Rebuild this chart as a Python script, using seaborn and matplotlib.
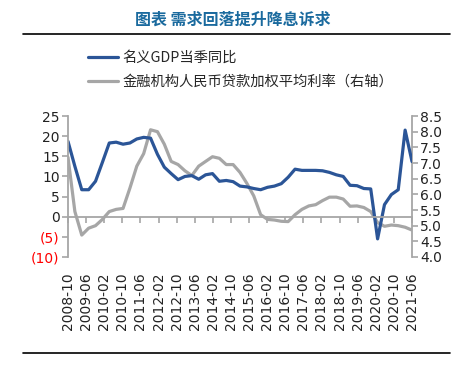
import numpy as np
import matplotlib
matplotlib.use("Agg")
import matplotlib.pyplot as plt
import seaborn as sns

# quarterly data, 2008Q4 .. 2021Q2
gdp_yoy = [18.7, 12.5, 6.7, 6.7, 8.8, 13.5, 18.3, 18.5, 18.0, 18.3,
           19.3, 19.7, 19.5, 15.5, 12.3, 10.7, 9.2, 10.0, 10.2, 9.3,
           10.4, 10.7, 8.8, 9.0, 8.7, 7.6, 7.4, 7.0, 6.7, 7.3,
           7.6, 8.2, 9.8, 11.8, 11.5, 11.5, 11.5, 11.4, 11.0, 10.4,
           10.0, 7.8, 7.7, 7.0, 6.9, -5.5, 3.0, 5.5, 6.7, 21.5,
           13.7]
loan_rate = [7.18, 5.45, 4.70, 4.92, 5.00, 5.20, 5.45, 5.52, 5.55, 6.20,
             6.90, 7.30, 8.06, 8.00, 7.60, 7.05, 6.95, 6.75, 6.60, 6.90,
             7.05, 7.20, 7.15, 6.95, 6.95, 6.70, 6.35, 5.95, 5.35, 5.20,
             5.18, 5.14, 5.13, 5.35, 5.52, 5.63, 5.67, 5.80, 5.91, 5.91,
             5.85, 5.62, 5.63, 5.58, 5.45, 5.10, 4.98, 5.02, 5.00, 4.95,
             4.86]
tick_labels = ['2008-10', '2009-06', '2010-02', '2010-10', '2011-06',
               '2012-02', '2012-10', '2013-06', '2014-02', '2014-10',
               '2015-06', '2016-02', '2016-10', '2017-06', '2018-02',
               '2018-10', '2019-06', '2020-02', '2020-10', '2021-06']
left_ticks = [-10, -5, 0, 5, 10, 15, 20, 25]
left_labels = ['(10)', '(5)', '0', '5', '10', '15', '20', '25']
right_ticks = [4.0, 4.5, 5.0, 5.5, 6.0, 6.5, 7.0, 7.5, 8.0, 8.5]

gdp_name = '名义GDP当季同比'
rate_name = '金融机构人民币贷款加权平均利率（右轴）'
title = '图表 需求回落提升降息诉求'

sns.set_style("white")
plt.rcParams['font.family'] = ['Noto Sans CJK SC', 'DejaVu Sans']
num_font = ['DejaVu Sans']

blue = '#2B5597'
grey = '#A6A6A6'
axis_grey = '#A6A6A6'
text_col = '#222222'

# x in months since 2008-10, ticks every 8 months
months = np.linspace(0, 152, len(gdp_yoy))
tick_pos = np.arange(0, 153, 8)

fig = plt.figure(figsize=(4.66, 3.68), dpi=100)
ax = fig.add_axes([68 / 466, 1 - 257 / 368, 344 / 466, 141 / 368])
ax2 = ax.twinx()

sns.lineplot(x=months, y=gdp_yoy, ax=ax, color=blue, linewidth=2.3, label=gdp_name, legend=False)
sns.lineplot(x=months, y=loan_rate, ax=ax2, color=grey, linewidth=2.3, label=rate_name, legend=False)
ax.set_zorder(ax2.get_zorder() + 1)
ax.patch.set_visible(False)

ax.set_xlim(0, 152)
ax.set_ylim(-10, 25)
ax2.set_ylim(4.0, 8.5)

ax.set_yticks(left_ticks)
ax.set_yticklabels(left_labels, family=num_font, fontsize=10)
for t, v in zip(ax.get_yticklabels(), left_ticks):
    t.set_color('red' if v < 0 else text_col)
ax2.set_yticks(right_ticks)
ax2.set_yticklabels([f'{v:.1f}' for v in right_ticks], family=num_font, fontsize=10)

for a in (ax, ax2):
    for s in a.spines.values():
        s.set_visible(False)
ax.spines['left'].set_visible(True)
ax.spines['left'].set_color(axis_grey)
ax.spines['left'].set_linewidth(1.3)
ax.spines['bottom'].set_visible(True)
ax.spines['bottom'].set_position(('data', 0))
ax.spines['bottom'].set_color(axis_grey)
ax.spines['bottom'].set_linewidth(1.3)
ax2.spines['right'].set_visible(True)
ax2.spines['right'].set_color(axis_grey)
ax2.spines['right'].set_linewidth(1.3)

ax.set_xticks(tick_pos)
ax.tick_params(axis='x', direction='out', length=4, width=1.2, color=axis_grey, labelbottom=False, bottom=True)
ax.tick_params(axis='y', direction='out', length=4, width=1.2, color=axis_grey, pad=2, left=True)
ax2.tick_params(axis='y', direction='out', length=4, width=1.2, color=axis_grey, pad=2,
                labelcolor=text_col, right=True)

sec = ax.secondary_xaxis('bottom')
sec.set_xticks(tick_pos)
sec.set_xticklabels(tick_labels, rotation=90, family=num_font, fontsize=10)
sec.tick_params(length=0, pad=11, labelcolor=text_col)
sec.spines['bottom'].set_visible(False)

ax.set_xlabel('')
ax.set_ylabel('')
ax2.set_ylabel('')

h1, l1 = ax.get_legend_handles_labels()
h2, l2 = ax2.get_legend_handles_labels()
fig.legend(h1 + h2, l1 + l2, loc='upper left', bbox_to_anchor=(88 / 466, 1 - 51 / 368),
           frameon=False, fontsize=10.3, handlelength=2.1, handletextpad=0.3,
           labelspacing=0.7, borderpad=0, borderaxespad=0)

fig.text(0.5, 1 - 20 / 368, title, ha='center', va='center', fontsize=11.5,
         fontweight='bold', color='#1A6A9E')
fig.add_artist(plt.Line2D([23 / 466, 450 / 466], [1 - 34 / 368, 1 - 34 / 368], color='black', linewidth=1.2))
fig.add_artist(plt.Line2D([23 / 466, 450 / 466], [1 - 353 / 368, 1 - 353 / 368], color='black', linewidth=1.2))

fig.savefig('out.png', dpi=100)
